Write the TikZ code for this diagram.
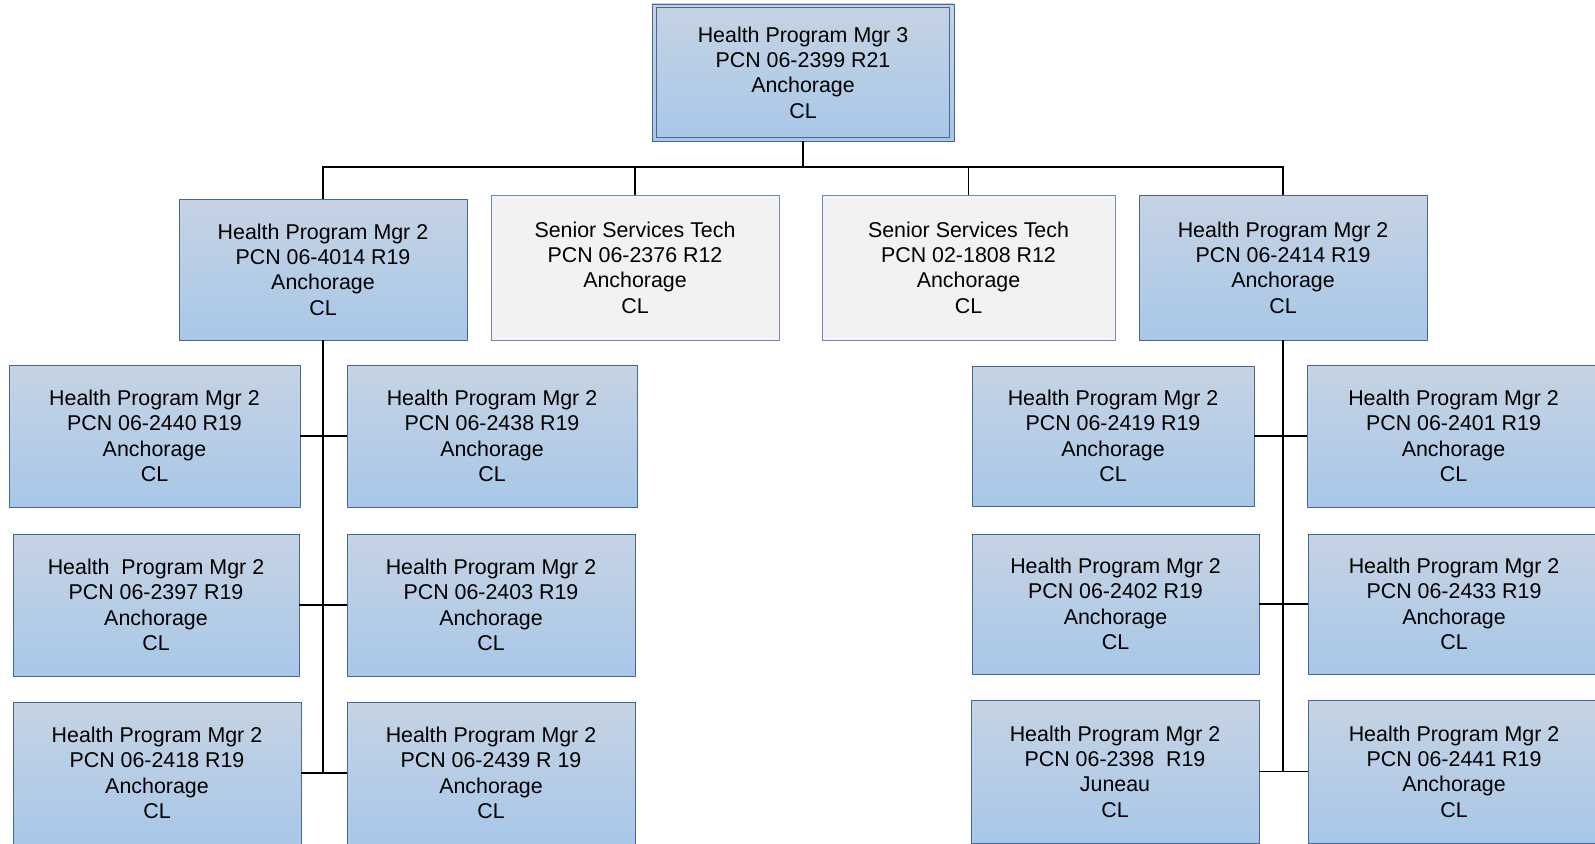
\documentclass[tikz,border=0pt]{standalone}
\usepackage{fontspec}
\setmainfont{Liberation Sans}
\definecolor{ctop}{RGB}{198,211,227}
\definecolor{cbot}{RGB}{168,199,233}
\definecolor{bord}{RGB}{72,102,150}
\definecolor{sfill}{RGB}{242,242,242}
\definecolor{sbord}{RGB}{112,137,180}
\tikzset{
  box/.style={draw=bord, line width=0.9pt, top color=ctop, bottom color=cbot, shading angle=0,
    align=center, inner sep=0pt, font=\fontsize{21.4}{25.4}\selectfont},
  sbox/.style={draw=sbord, line width=0.9pt, fill=sfill,
    align=center, inner sep=0pt, font=\fontsize{21.4}{25.4}\selectfont},
  conn/.style={draw=black, line width=1.6pt}
}
\newcommand\bx[7][box]{\node[#1, minimum width={(#5-#3)*1pt}, minimum height={(#6-#4)*1pt}] (#2) at ({(#3+#5)/2},{(#4+#6)/2}) {#7};}
\begin{document}
\begin{tikzpicture}[x=1pt,y=-1pt]
\useasboundingbox (0,0) rectangle (1595,843);
\clip (0,0) rectangle (1595,843);
% top
\bx{top}{652}{4}{954}{141}{Health Program Mgr 3\\PCN 06-2399 R21\\Anchorage\\CL}
\draw[bord, line width=0.9pt] ([shift={(5pt,-4pt)}]top.north west) rectangle ([shift={(-5pt,4pt)}]top.south east);
% level 2
\bx{L}{179}{199}{467}{340}{Health Program Mgr 2\\PCN 06-4014 R19\\Anchorage\\CL}
\bx[sbox]{S1}{491}{195}{779}{340}{Senior Services Tech\\PCN 06-2376 R12\\Anchorage\\CL}
\bx[sbox]{S2}{822}{195}{1115}{340}{Senior Services Tech\\PCN 02-1808 R12\\Anchorage\\CL}
\bx{R}{1139}{195}{1427}{340}{Health Program Mgr 2\\PCN 06-2414 R19\\Anchorage\\CL}
% left subtree
\bx{La}{9}{365}{300}{507}{Health Program Mgr 2\\PCN 06-2440 R19\\Anchorage\\CL}
\bx{Lb}{347}{365}{637}{507}{Health Program Mgr 2\\PCN 06-2438 R19\\Anchorage\\CL}
\bx{Lc}{13}{534}{299}{676}{Health\ \ Program Mgr 2\\PCN 06-2397 R19\\Anchorage\\CL}
\bx{Ld}{347}{534}{635}{676}{Health Program Mgr 2\\PCN 06-2403 R19\\Anchorage\\CL}
\bx{Le}{13}{702}{301}{844}{Health Program Mgr 2\\PCN 06-2418 R19\\Anchorage\\CL}
\bx{Lf}{347}{702}{635}{844}{Health Program Mgr 2\\PCN 06-2439 R 19\\Anchorage\\CL}
% right subtree
\bx{Ra}{972}{366}{1254}{506}{Health Program Mgr 2\\PCN 06-2419 R19\\Anchorage\\CL}
\bx{Rb}{1307}{365}{1600}{507}{Health Program Mgr 2\\PCN 06-2401 R19\\Anchorage\\CL}
\bx{Rc}{972}{534}{1259}{674}{Health Program Mgr 2\\PCN 06-2402 R19\\Anchorage\\CL}
\bx{Rd}{1308}{534}{1600}{674}{Health Program Mgr 2\\PCN 06-2433 R19\\Anchorage\\CL}
\bx{Re}{971}{700}{1259}{843}{Health Program Mgr 2\\PCN 06-2398\ \ R19\\Juneau\\CL}
\bx{Rf}{1308}{700}{1600}{843}{Health Program Mgr 2\\PCN 06-2441 R19\\Anchorage\\CL}
% connectors
\coordinate (hub) at (803,167);
\draw[conn] (top.south) -- (hub);
\draw[conn] (L.north) |- (hub) -| (R.north);
\draw[conn] (S1.north) -- (S1.north |- hub);
\draw[conn] (S2.north) -- (S2.north |- hub);
\draw[conn] (L.south) -- (L.south |- Le.east);
\draw[conn] (La.east) -- (Lb.west);
\draw[conn] (Lc.east) -- (Ld.west);
\draw[conn] (Le.east) -- (Lf.west);
\draw[conn] (R.south) -- (R.south |- Re.east);
\draw[conn] (Ra.east) -- (Rb.west);
\draw[conn] (Rc.east) -- (Rd.west);
\draw[conn] (Re.east) -- (Rf.west);
\end{tikzpicture}
\end{document}
